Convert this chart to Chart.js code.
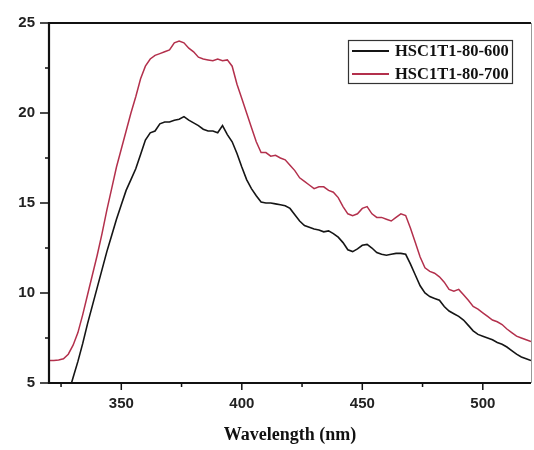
<!DOCTYPE html>
<html>
<head>
<meta charset="utf-8">
<script src="https://cdn.jsdelivr.net/npm/chart.js@4/dist/chart.umd.min.js"></script>
<style>
  html, body { margin: 0; padding: 0; background: #fff; }
  #wrap { width: 534px; height: 450px; position: relative; }
</style>
</head>
<body>
<div id="wrap"><canvas id="c" width="534" height="450"></canvas></div>
<script>
// ---- data ----
const wavelengths = [320,322,324,326,328,330,332,334,336,338,340,342,344,346,348,350,352,354,356,358,
  360,362,364,366,368,370,372,374,376,378,380,382,384,386,388,390,392,394,396,398,
  400,402,404,406,408,410,412,414,416,418,420,422,424,426,428,430,432,434,436,438,
  440,442,444,446,448,450,452,454,456,458,460,462,464,466,468,470,472,474,476,478,
  480,482,484,486,488,490,492,494,496,498,500,502,504,506,508,510,512,514,516,518,520];

const hsc600 = [null,null,null,null,4.4,5.3,6.2,7.2,8.3,9.3,10.3,11.3,12.3,13.2,14.1,14.9,15.7,16.3,16.9,17.7,
  18.5,18.9,19.0,19.4,19.5,19.5,19.6,19.65,19.8,19.6,19.45,19.3,19.1,19.0,19.0,18.9,19.3,18.8,18.4,17.75,
  17.0,16.3,15.8,15.4,15.05,15.0,15.0,14.95,14.9,14.85,14.7,14.35,14.0,13.75,13.65,13.55,13.5,13.4,13.45,13.3,
  13.1,12.8,12.4,12.3,12.45,12.65,12.7,12.5,12.25,12.15,12.1,12.15,12.2,12.2,12.15,11.6,11.0,10.4,10.0,9.8,
  9.7,9.6,9.25,9.0,8.85,8.7,8.5,8.2,7.9,7.7,7.6,7.5,7.4,7.25,7.15,7.0,6.8,6.6,6.45,6.35,6.25];

const hsc700 = [6.25,6.25,6.28,6.35,6.6,7.1,7.8,8.8,9.9,11.0,12.1,13.3,14.6,15.8,17.0,18.0,19.0,20.0,20.9,21.9,
  22.6,23.0,23.2,23.3,23.4,23.5,23.9,24.0,23.9,23.6,23.4,23.1,23.0,22.95,22.9,23.0,22.9,22.95,22.6,21.6,
  20.8,20.0,19.2,18.4,17.8,17.8,17.6,17.65,17.5,17.4,17.1,16.8,16.4,16.2,16.0,15.8,15.9,15.9,15.7,15.6,
  15.3,14.8,14.4,14.3,14.4,14.7,14.8,14.4,14.2,14.2,14.1,14.0,14.2,14.4,14.3,13.6,12.8,12.0,11.4,11.2,
  11.1,10.9,10.6,10.2,10.1,10.2,9.9,9.6,9.25,9.1,8.9,8.7,8.5,8.4,8.25,8.0,7.8,7.6,7.5,7.4,7.3];

const seriesLabels = ['HSC1T1-80-600', 'HSC1T1-80-700'];
const xMajorTicks = [350, 400, 450, 500];
const xMinorTicks = [325, 375, 425, 475];
const yMajorTicks = [5, 10, 15, 20, 25];
const yMinorTicks = [7.5, 12.5, 17.5, 22.5];
const xTitle = 'Wavelength (nm)';

// ---- styles ----
const colors = ['#151515', '#b3304c'];

const pts = (vals) => wavelengths.map((w, i) => ({ x: w, y: vals[i] }));

const frameTicksLegend = {
  id: 'frameTicksLegend',
  afterDraw(chart) {
    const ctx = chart.ctx;
    const a = chart.chartArea;
    const xs = chart.scales.x, ys = chart.scales.y;
    ctx.save();
    ctx.strokeStyle = '#111';
    // tick marks
    ctx.lineWidth = 1.5;
    ctx.beginPath();
    xMajorTicks.forEach(v => { const p = xs.getPixelForValue(v); ctx.moveTo(p, a.bottom); ctx.lineTo(p, a.bottom + 7); });
    xMinorTicks.forEach(v => { const p = xs.getPixelForValue(v); ctx.moveTo(p, a.bottom); ctx.lineTo(p, a.bottom + 4); });
    yMajorTicks.forEach(v => { const p = ys.getPixelForValue(v); ctx.moveTo(a.left, p); ctx.lineTo(a.left - 9, p); });
    yMinorTicks.forEach(v => { const p = ys.getPixelForValue(v); ctx.moveTo(a.left, p); ctx.lineTo(a.left - 4, p); });
    ctx.stroke();
    // frame
    ctx.strokeStyle = '#999';
    ctx.lineWidth = 1;
    ctx.beginPath();
    ctx.moveTo(a.right + 0.5, a.top); ctx.lineTo(a.right + 0.5, a.bottom);
    ctx.stroke();
    ctx.strokeStyle = '#111';
    ctx.lineWidth = 2.2;
    ctx.beginPath();
    ctx.moveTo(a.left, a.top); ctx.lineTo(a.right, a.top);
    ctx.moveTo(a.left, a.top - 1); ctx.lineTo(a.left, a.bottom + 1);
    ctx.moveTo(a.left - 1, a.bottom); ctx.lineTo(a.right, a.bottom);
    ctx.stroke();
    // legend box
    const bx = a.right - 183, by = a.top + 17, bw = 164, bh = 43;
    ctx.fillStyle = '#fff';
    ctx.fillRect(bx, by, bw, bh);
    ctx.strokeStyle = '#333';
    ctx.lineWidth = 1.2;
    ctx.strokeRect(bx + 0.5, by + 0.5, bw, bh);
    ctx.font = 'bold 16.5px "Liberation Serif"';
    ctx.textBaseline = 'middle';
    ctx.textAlign = 'left';
    chart.data.datasets.forEach((ds, i) => {
      const yy = by + 11 + i * 23;
      ctx.strokeStyle = ds.borderColor;
      ctx.lineWidth = 2.2;
      ctx.beginPath();
      ctx.moveTo(bx + 4, yy); ctx.lineTo(bx + 41, yy);
      ctx.stroke();
      ctx.fillStyle = '#111';
      ctx.fillText(ds.label, bx + 47, yy + 1);
    });
    ctx.restore();
  }
};

new Chart(document.getElementById('c'), {
  type: 'line',
  data: {
    datasets: [
      { label: seriesLabels[0], data: pts(hsc600), borderColor: colors[0], borderWidth: 1.6, pointRadius: 0, tension: 0, fill: false },
      { label: seriesLabels[1], data: pts(hsc700), borderColor: colors[1], borderWidth: 1.5, pointRadius: 0, tension: 0, fill: false }
    ]
  },
  options: {
    responsive: false,
    animation: false,
    devicePixelRatio: 1,
    layout: { padding: { top: 19, right: 3, left: 0, bottom: 0 } },
    plugins: { legend: { display: false }, tooltip: { enabled: false } },
    scales: {
      x: {
        type: 'linear', min: 320, max: 520,
        afterBuildTicks: s => { s.ticks = xMajorTicks.map(v => ({ value: v })); },
        afterFit: s => { s.height = 67; },
        grid: { display: false, drawTicks: false },
        border: { display: false },
        ticks: { padding: 12, color: '#222', font: { family: '"Liberation Sans"', weight: 'bold', size: 15 } },
        title: { display: true, text: xTitle, color: '#111', padding: { top: 0, bottom: 4 },
                 font: { family: '"Liberation Serif"', weight: 'bold', size: 18 } }
      },
      y: {
        type: 'linear', min: 5, max: 25,
        afterBuildTicks: s => { s.ticks = yMajorTicks.map(v => ({ value: v })); },
        afterFit: s => { s.width = 49; },
        grid: { display: false, drawTicks: false },
        border: { display: false },
        ticks: { padding: 14, color: '#222', font: { family: '"Liberation Sans"', weight: 'bold', size: 15 } }
      }
    }
  },
  plugins: [frameTicksLegend]
});
</script>
</body>
</html>
